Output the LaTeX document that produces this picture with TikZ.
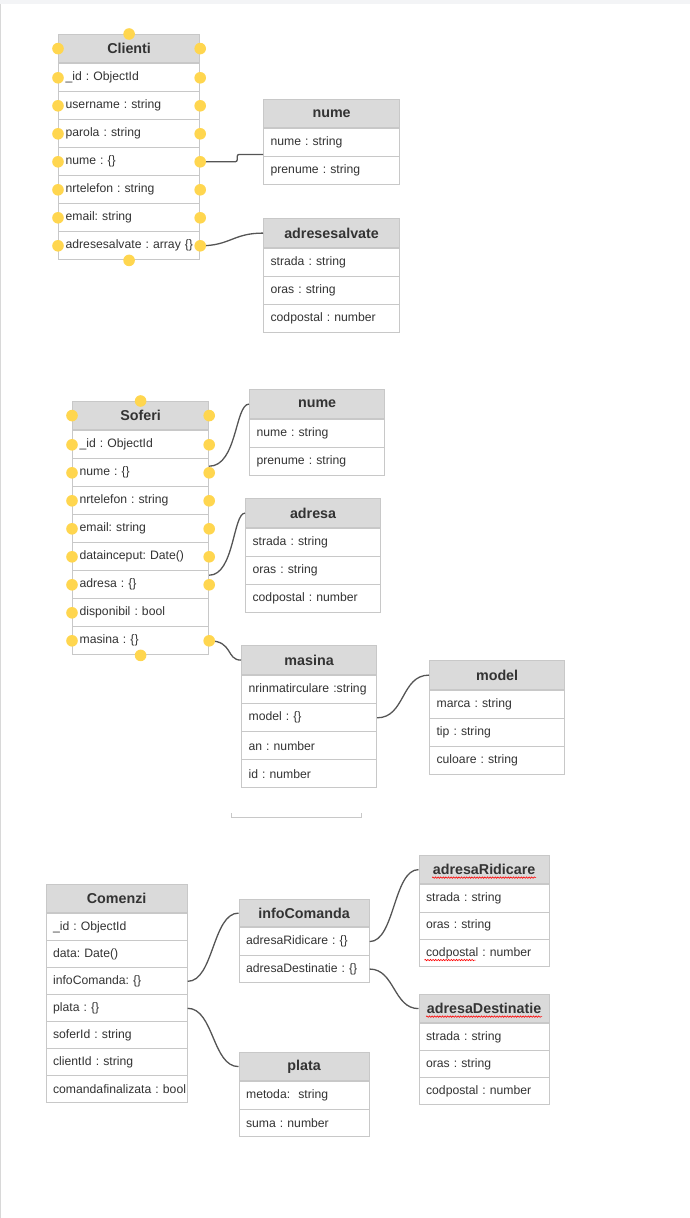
\documentclass[tikz,border=0pt]{standalone}
\usepackage{fontspec}
\setmainfont{Liberation Sans}
\frenchspacing
\usetikzlibrary{calc,decorations.pathmorphing}
\definecolor{hdrfill}{RGB}{218,218,218}
\definecolor{bordercol}{RGB}{200,200,200}
\definecolor{txtcol}{RGB}{51,51,51}
\definecolor{conncol}{RGB}{85,85,85}
\definecolor{dotcol}{RGB}{255,214,79}
\definecolor{bandcol}{RGB}{243,244,246}
\newcommand{\erbox}[8]{%
  \pgfmathsetmacro{\erTw}{#4-14}%
  \node[hdrbox, minimum width=#4pt, minimum height=#5pt] (#1) at (#2,#3) {#7};
  \foreach \t [count=\i] in {#8} {
    \node[rowbox, minimum width=#4pt, minimum height=#6pt, text width=\erTw pt]
      (#1-\i) at ($(#1.south west)+(0,{(\i-1)*#6})$) {\frenchspacing\mbox{\t}};
  }
}
\begin{document}
\begin{tikzpicture}[x=1pt,y=-1pt,
  hdrbox/.style={draw=bordercol, line width=1.2pt, fill=hdrfill, anchor=north west,
    inner sep=0pt, text=txtcol, font=\fontsize{14.3}{16}\selectfont\bfseries},
  rowbox/.style={draw=bordercol, line width=1.2pt, fill=white, anchor=north west,
    inner xsep=7pt, inner ysep=0pt, align=left, text=txtcol,
    font=\fontsize{12.2}{14}\selectfont},
  conn/.style={draw=conncol, line width=1.3pt},
  ydot/.style={fill=dotcol},
  squig/.style={draw=red, line width=0.6pt, decorate,
    decoration={snake, amplitude=0.7pt, segment length=2.6pt}}
]
\useasboundingbox (0,0) rectangle (690,1218);
\fill[bandcol] (0,0) rectangle (690,4);
\draw[bordercol!70, line width=1pt] (0.5,4) -- (0.5,1218);

% ---------- Clienti ----------
\erbox{cl}{58}{34}{141}{28}{28}{Clienti}{{\_id : ObjectId},{username : string},{parola : string},{nume : \{\}},{nrtelefon : string},{email: string},{adresesalvate : array \{\}}}
\erbox{cnume}{263}{99}{136}{28}{28}{nume}{{nume : string},{prenume : string}}
\erbox{adrs}{263}{218}{136}{29}{28}{adresesalvate}{{strada : string},{oras : string},{codpostal : number}}

% ---------- Soferi ----------
\erbox{so}{72}{401}{136}{28}{28}{Soferi}{{\_id : ObjectId},{nume : \{\}},{nrtelefon : string},{email: string},{datainceput: Date()},{adresa : \{\}},{disponibil : bool},{masina : \{\}}}
\erbox{snume}{249}{389}{135}{29}{28}{nume}{{nume : string},{prenume : string}}
\erbox{sadr}{245}{498}{135}{29}{28}{adresa}{{strada : string},{oras : string},{codpostal : number}}
\erbox{mas}{241}{645}{135}{29}{28}{masina}{{nrinmatirculare :string},{model : \{\}},{an : number},{id : number}}
\erbox{mdl}{429}{660}{135}{29}{28}{model}{{marca : string},{tip : string},{culoare : string}}

\draw[bordercol, line width=1pt] (231,813) -- (231,817) -- (361,817) -- (361,813);

% ---------- Comenzi ----------
\erbox{co}{45.5}{884}{141}{28}{27}{Comenzi}{{\_id : ObjectId},{data: Date()},{infoComanda: \{\}},{plata : \{\}},{soferId : string},{clientId : string},{comandafinalizata : bool}}
\erbox{ic}{238.5}{899}{130}{27}{27.5}{infoComanda}{{adresaRidicare : \{\}},{adresaDestinatie : \{\}}}
\erbox{ar}{418.5}{855}{130}{28}{27.3}{adresaRidicare}{{strada : string},{oras : string},{codpostal : number}}
\erbox{ad}{418.5}{994}{130}{28}{27}{adresaDestinatie}{{strada : string},{oras : string},{codpostal : number}}
\erbox{pl}{238.5}{1052}{130}{28}{27.5}{plata}{{metoda:\ \ string},{suma : number}}

% spell-check squiggles
\draw[squig] ($(ar.center)+(-52,8)$) -- ($(ar.center)+(52,8)$);
\draw[squig] ($(ad.center)+(-58,8)$) -- ($(ad.center)+(58,8)$);
\draw[squig] ($(ar-3.west)+(6,7)$) -- ($(ar-3.west)+(57,7)$);

% ---------- connectors ----------
\draw[conn, rounded corners=2pt] (cl-4.east) -- ++(37,0) |- ($(cnume-1.south west)+(0,-3)$);
\draw[conn] (cl-7.east) .. controls +(30,0) and +(-30,0) .. (adrs.west);
\draw[conn] ($(so-2.north east)+(0,8)$) .. controls +(28,0) and +(-14,0) .. (snume.west);
\draw[conn] ($(so-6.north east)+(0,5)$) .. controls +(25,0) and +(-12,0) .. (sadr.west);
\draw[conn] (so-8.east) .. controls +(24,0) and +(-15,0) .. (mas.west);
\draw[conn] (mas-2.east) .. controls +(28,0) and +(-28,0) .. (mdl.west);
\draw[conn] (co-3.east) .. controls +(26,0) and +(-26,0) .. (ic.west);
\draw[conn] (co-4.east) .. controls +(26,0) and +(-26,0) .. (pl.west);
\draw[conn] (ic-1.east) .. controls +(25,0) and +(-25,0) .. (ar.west);
\draw[conn] (ic-2.east) .. controls +(25,0) and +(-25,0) .. (ad.west);

% ---------- yellow dots ----------
\foreach \a in {cl,cl-1,cl-2,cl-3,cl-4,cl-5,cl-6,cl-7} {
  \fill[ydot] (\a.west) circle (5.8pt);
  \fill[ydot] (\a.east) circle (5.8pt);
}
\fill[ydot] (cl.north) circle (5.8pt);
\fill[ydot] (cl-7.south) circle (5.8pt);
\foreach \a in {so,so-1,so-2,so-3,so-4,so-5,so-6,so-7,so-8} {
  \fill[ydot] (\a.west) circle (5.8pt);
}
\foreach \a in {so,so-1,so-2,so-3,so-4,so-5,so-6,so-8} {
  \fill[ydot] (\a.east) circle (5.8pt);
}
\fill[ydot] (so.north) circle (5.8pt);
\fill[ydot] (so-8.south) circle (5.8pt);
\end{tikzpicture}
\end{document}
